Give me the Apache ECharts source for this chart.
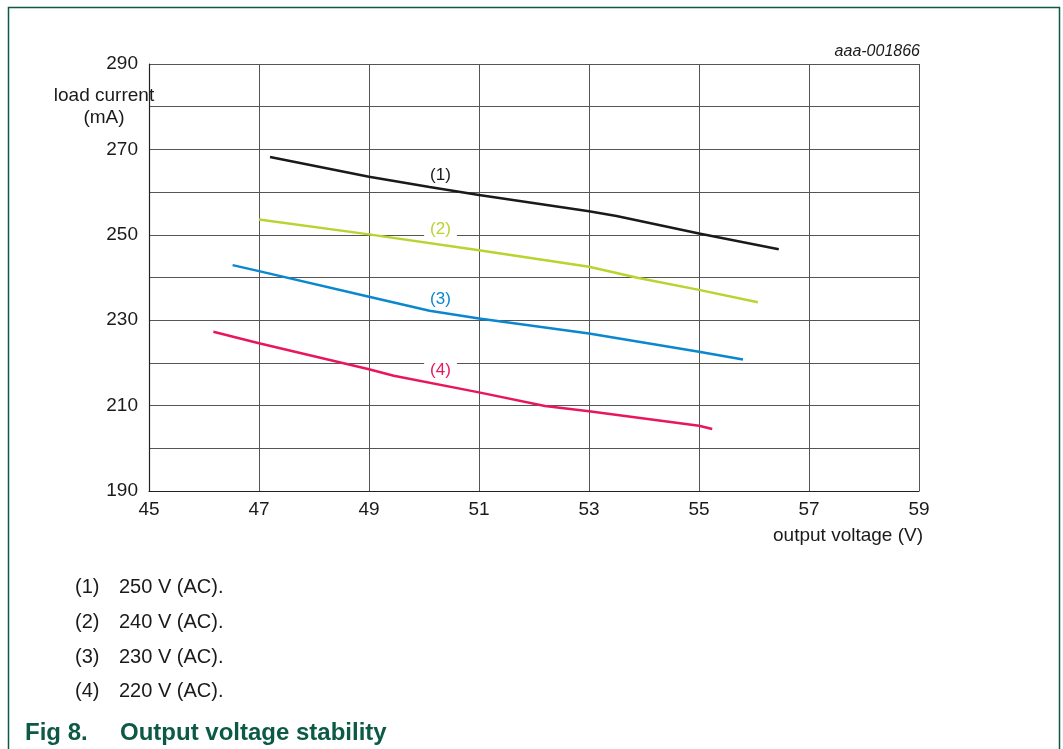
<!DOCTYPE html>
<html>
<head>
<meta charset="utf-8">
<script src="https://cdn.jsdelivr.net/npm/echarts@6/dist/echarts.min.js"></script>
<style>
html,body{margin:0;padding:0;background:#fff;}
#chart{width:1063px;height:749px;}
</style>
</head>
<body>
<div id="chart"></div>
<script>
// Data (output voltage V, load current mA)
const xTicks = [45, 47, 49, 51, 53, 55, 57, 59];
const yTickLabels = [190, 210, 230, 250, 270, 290];
const seriesNames = ['(1)', '(2)', '(3)', '(4)'];
const legendTexts = ['250 V (AC).', '240 V (AC).', '230 V (AC).', '220 V (AC).'];
const line1 = [[47.2,268.2],[49,263.6],[50.1,261.2],[51,259.3],[53,255.5],[53.5,254.4],[55,250.3],[56.45,246.6]];
const line2 = [[47.0,253.6],[49,250.1],[51,246.4],[53,242.5],[53.9,239.9],[55,237.1],[56.07,234.2]];
const line3 = [[46.52,242.9],[47,241.5],[49,235.5],[50.1,232.2],[51,230.4],[53,226.9],[55,222.6],[55.8,220.8]];
const line4 = [[46.17,227.3],[47,224.6],[49,218.5],[49.45,217.0],[51,213.1],[52.2,209.9],[53,208.7],[55,205.3],[55.24,204.5]];

const colors = ['#1a1a1a', '#b8d430', '#0a87cf', '#e8175d'];
const lines = [line1, line2, line3, line4];
const labelAnchors = [[50.3, 264.0], [50.3, 251.4], [50.3, 235.0], [50.3, 218.3]];
const labelBg = [null, '#fff', null, '#fff'];

const chart = echarts.init(document.getElementById('chart'), null, {renderer: 'canvas'});
const FONT = 'Liberation Sans, Arial, sans-serif';
const TXT = '#1a1a1a';
const GREEN = '#0c5a46';

const series = lines.map((d, i) => ({
  type: 'line',
  name: seriesNames[i],
  data: d,
  showSymbol: false,
  smooth: false,
  lineStyle: {color: colors[i], width: 2.5},
  itemStyle: {color: colors[i]},
  z: 5,
  markPoint: {
    symbol: 'rect',
    symbolSize: 0,
    silent: true,
    data: [{coord: labelAnchors[i], value: seriesNames[i]}],
    label: {
      show: true,
      formatter: seriesNames[i],
      color: colors[i],
      fontFamily: FONT,
      fontSize: 17,
      position: 'inside',
      backgroundColor: labelBg[i] || 'transparent',
      padding: [0, 6]
    }
  }
}));

const graphics = [
  {type: 'rect', shape: {x: 8.5, y: 7.5, width: 1051, height: 760}, style: {fill: 'none', stroke: GREEN, lineWidth: 1.5}, silent: true},
  {type: 'text', x: 104, y: 96, style: {text: 'load current', font: '19px ' + FONT, fill: TXT, textAlign: 'center', textVerticalAlign: 'middle'}},
  {type: 'text', x: 104, y: 118, style: {text: '(mA)', font: '19px ' + FONT, fill: TXT, textAlign: 'center', textVerticalAlign: 'middle'}},
  {type: 'text', x: 920, y: 52, style: {text: 'aaa-001866', font: 'italic 16px ' + FONT, fill: TXT, textAlign: 'right', textVerticalAlign: 'middle'}},
  {type: 'text', x: 923, y: 536, style: {text: 'output voltage (V)', font: '19px ' + FONT, fill: TXT, textAlign: 'right', textVerticalAlign: 'middle'}},
  {type: 'text', x: 25, y: 733, style: {text: 'Fig 8.', font: 'bold 24px ' + FONT, fill: GREEN, textAlign: 'left', textVerticalAlign: 'middle'}},
  {type: 'text', x: 120, y: 733, style: {text: 'Output voltage stability', font: 'bold 24px ' + FONT, fill: GREEN, textAlign: 'left', textVerticalAlign: 'middle'}}
];
const legendY = [587, 622, 657, 691];
legendTexts.forEach((t, i) => {
  graphics.push({type: 'text', x: 75, y: legendY[i], style: {text: seriesNames[i], font: '20px ' + FONT, fill: TXT, textAlign: 'left', textVerticalAlign: 'middle'}});
  graphics.push({type: 'text', x: 119, y: legendY[i], style: {text: t, font: '20px ' + FONT, fill: TXT, textAlign: 'left', textVerticalAlign: 'middle'}});
});

chart.setOption({
  animation: false,
  backgroundColor: '#fff',
  grid: {left: 149, right: 144, top: 64, bottom: 258, containLabel: false},
  xAxis: {
    type: 'value', min: xTicks[0], max: xTicks[xTicks.length - 1], interval: 2,
    axisLine: {show: true, lineStyle: {color: '#222', width: 1.2}},
    axisTick: {show: false},
    axisLabel: {color: TXT, fontSize: 19, fontFamily: FONT, margin: 9,
      formatter: v => xTicks.includes(v) ? String(v) : ''},
    splitLine: {show: true, lineStyle: {color: '#555', width: 1}}
  },
  yAxis: {
    type: 'value', min: 190, max: 290, interval: 10,
    axisLine: {show: true, lineStyle: {color: '#222', width: 1.2}},
    axisTick: {show: false},
    axisLabel: {color: TXT, fontSize: 19, fontFamily: FONT, margin: 11,
      formatter: v => yTickLabels.includes(v) ? String(v) : ''},
    splitLine: {show: true, lineStyle: {color: '#555', width: 1}}
  },
  series: series,
  graphic: graphics
});
</script>
</body>
</html>
